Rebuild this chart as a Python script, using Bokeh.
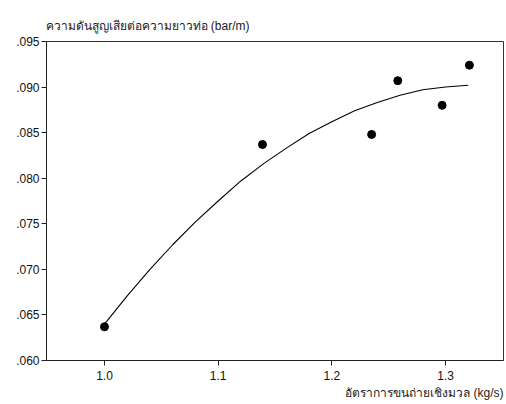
from bokeh.plotting import figure
from bokeh.models import FixedTicker, CustomJSTickFormatter, NumeralTickFormatter, Title, Range1d
from bokeh.embed import file_html
from bokeh.resources import INLINE

# Data points (mass flow rate kg/s, pressure loss per pipe length bar/m)
mass_flow = [1.0, 1.139, 1.235, 1.258, 1.297, 1.321]
pressure_loss = [0.0637, 0.0837, 0.0848, 0.0907, 0.0880, 0.0924]

# Trend curve
curve_x = [1.00, 1.02, 1.04, 1.06, 1.08, 1.10, 1.12, 1.14, 1.16,
           1.18, 1.20, 1.22, 1.24, 1.26, 1.28, 1.30, 1.32]
curve_y = [0.0640, 0.0671, 0.0700, 0.0727, 0.0752, 0.0775, 0.0797, 0.0816, 0.0833,
           0.0849, 0.0862, 0.0874, 0.0883, 0.0891, 0.0897, 0.0900, 0.0902]

x_ticks = [1.0, 1.1, 1.2, 1.3]
y_ticks = [0.060, 0.065, 0.070, 0.075, 0.080, 0.085, 0.090, 0.095]

y_title = "ความดันสูญเสียต่อความยาวท่อ (bar/m)"
x_title = "อัตราการขนถ่ายเชิงมวล (kg/s)"

FONT = "Liberation Sans"

p = figure(width=506, height=404, output_backend="svg", toolbar_location=None,
           x_range=Range1d(0.949, 1.351), y_range=Range1d(0.060, 0.095),
           min_border_left=46, min_border_right=3, min_border_top=41, min_border_bottom=44)

p.background_fill_color = "white"
p.border_fill_color = "white"
p.outline_line_color = "#333333"
p.outline_line_width = 1
p.xgrid.visible = False
p.ygrid.visible = False

p.title.text = y_title
p.title.align = "left"
p.title.offset = -1
p.title.text_font = FONT
p.title.text_font_size = "12px"
p.title.text_font_style = "normal"
p.title.text_color = "#222222"
p.title.standoff = 18

for ax in (p.xaxis[0], p.yaxis[0]):
    ax.axis_line_color = "#222222"
    ax.major_tick_line_color = "#222222"
    ax.major_tick_out = 5
    ax.major_tick_in = 0
    ax.minor_tick_line_color = None
    ax.major_label_text_font = FONT
    ax.major_label_text_font_size = "12px"
    ax.major_label_text_color = "#111111"

p.xaxis[0].ticker = FixedTicker(ticks=x_ticks)
p.xaxis[0].formatter = NumeralTickFormatter(format="0.0")
p.xaxis[0].major_label_standoff = 5
p.yaxis[0].ticker = FixedTicker(ticks=y_ticks)
p.yaxis[0].formatter = CustomJSTickFormatter(code="return tick.toFixed(3).replace(/^0/, '');")
p.yaxis[0].major_label_standoff = 2

xt = Title(text=x_title, align="right", text_font=FONT, text_font_size="12px",
           text_font_style="normal", text_color="#222222", standoff=2, offset=0)
p.add_layout(xt, "below")

p.line(curve_x, curve_y, line_color="black", line_width=1.1)
p.scatter(mass_flow, pressure_loss, size=8, fill_color="black", line_color="black")

open("out.html", "w").write(file_html(p, INLINE))
